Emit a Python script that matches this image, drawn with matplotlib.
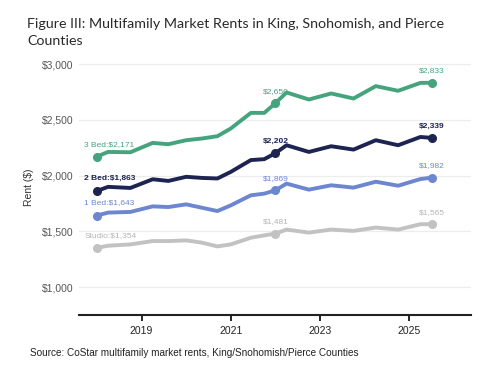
import matplotlib
matplotlib.use("Agg")
import matplotlib.pyplot as plt
from matplotlib.ticker import FuncFormatter

# dates (decimal years) where the series change direction
years = [2018.0, 2018.25, 2018.75, 2019.25, 2019.6, 2020.0, 2020.35, 2020.7,
         2021.0, 2021.45, 2021.75, 2022.0, 2022.25, 2022.75, 2023.25, 2023.75,
         2024.25, 2024.75, 2025.25, 2025.5]

bed3 = [2171, 2213, 2210, 2294, 2282, 2318, 2333, 2354, 2423, 2563, 2563, 2650,
        2746, 2683, 2737, 2692, 2803, 2761, 2832, 2833]
bed2 = [1863, 1900, 1890, 1968, 1953, 1990, 1980, 1975, 2034, 2140, 2148, 2202,
        2273, 2213, 2264, 2234, 2318, 2273, 2347, 2339]
bed1 = [1643, 1669, 1675, 1725, 1719, 1743, 1713, 1683, 1734, 1824, 1839, 1869,
        1929, 1875, 1914, 1893, 1946, 1910, 1970, 1982]
studio = [1354, 1372, 1384, 1414, 1414, 1420, 1400, 1366, 1384, 1444, 1465, 1481,
          1517, 1490, 1517, 1505, 1535, 1517, 1565, 1565]

names = ["3 Bed", "2 Bed", "1 Bed", "Studio"]
series = [bed3, bed2, bed1, studio]
colors = ["#45a47e", "#1d2452", "#6c87d0", "#c2c2c2"]
label_colors = ["#45a47e", "#1d2452", "#6c87d0", "#b5b5b5"]
mid_idx = years.index(2022.0)

fig = plt.figure(figsize=(4.91, 3.66), dpi=100)
ax = fig.add_axes([0.161, 0.139, 0.798, 0.701])

for name, vals, c, lc in zip(names, series, colors, label_colors):
    ax.plot(years, vals, color=c, lw=2.8, solid_joinstyle="round", solid_capstyle="round")
    idx = [0, mid_idx, len(years) - 1]
    ax.plot([years[i] for i in idx], [vals[i] for i in idx], "o", color=c, ms=5.5)
    bold = "bold" if name == "2 Bed" else "normal"
    ax.annotate(f"{name}:${vals[0]:,}", (years[0], vals[0]), xytext=(-9, 9),
                textcoords="offset points", ha="left", va="center", fontsize=6,
                color=lc, fontweight=bold, family="Liberation Sans")
    for i in idx[1:]:
        ax.annotate(f"${vals[i]:,}", (years[i], vals[i]), xytext=(0, 8.5),
                    textcoords="offset points", ha="center", va="center", fontsize=6,
                    color=lc, fontweight=bold, family="Liberation Sans")

ax.set_xlim(2017.6, 2026.38)
ax.set_ylim(750, 3050)
ax.set_yticks([1000, 1500, 2000, 2500, 3000])
ax.set_xticks([2019, 2021, 2023, 2025])
ax.yaxis.set_major_formatter(FuncFormatter(lambda v, p: f"${v:,.0f}"))
ax.grid(axis="y", color="#ececec", lw=0.8)
ax.set_axisbelow(True)
for s in ["top", "right", "left"]:
    ax.spines[s].set_visible(False)
ax.spines["bottom"].set_linewidth(1.5)
ax.spines["bottom"].set_color("#222222")
ax.tick_params(axis="y", length=0, labelsize=7.5, labelcolor="#555555", pad=4)
ax.tick_params(axis="x", length=4, width=1.2, labelsize=7.5, labelcolor="#222222")
for lab in ax.get_xticklabels() + ax.get_yticklabels():
    lab.set_family("Liberation Sans")
ax.set_ylabel("Rent ($)", fontsize=7.5, color="#333333", family="Liberation Sans", labelpad=6)

fig.text(0.055, 0.95, "Figure III: Multifamily Market Rents in King, Snohomish, and Pierce\nCounties",
         fontsize=10.3, family="Lato", color="#2a2a2a", va="top", linespacing=1.45)
fig.text(0.061, 0.035, "Source: CoStar multifamily market rents, King/Snohomish/Pierce Counties",
         fontsize=7.2, family="Liberation Sans", color="#222222", va="center")

fig.savefig("out.png", dpi=100)
